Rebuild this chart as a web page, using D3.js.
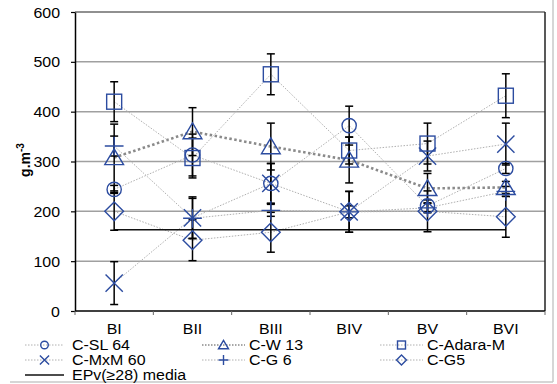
<!DOCTYPE html>
<html>
<head>
<meta charset="utf-8">
<script src="https://cdn.jsdelivr.net/npm/d3@7"></script>
<style>
  body { margin: 0; background: #fff; }
  svg { display: block; font-family: "Liberation Sans", Arial, sans-serif; }
</style>
</head>
<body>
<svg id="chart" width="557" height="384"></svg>
<script>
// Sampling blocks
const categories = ["BI", "BII", "BIII", "BIV", "BV", "BVI"];
const yTicks = [0, 100, 200, 300, 400, 500, 600];

// Mean values (g.m-3) per clone
const sl64   = [244, 313, 256, 372, 211, 286];
const w13    = [308, 360, 330, 303, 246, 248];
const adara  = [420, 307, 475, 322, 336, 432];
const mxm60  = [56, 187, 256, 199, 311, 335];
const g6     = [331, 186, 202, 199, 207, 240];
const g5     = [200, 142, 158, 199, 200, 189];

// Standard errors
const sl64Err  = [8, 42, 40, 39, 12, 10];
const w13Err   = [67, 48, 47, 46, 30, 12];
const adaraErr = [40, 40, 41, 27, 41, 44];
const mxm60Err = [43, 42, 40, 41, 30, 42];
const g6Err    = [20, 40, 12, 12, 10, 10];
const g5Err    = [38, 41, 40, 41, 41, 41];

// Mean EPv(>=28) reference level
const epvMedia = 163;

const seriesNames = ["C-SL 64", "C-W 13", "C-Adara-M", "C-MxM 60", "C-G 6", "C-G5", "EPv(≥28)  media"];
const seriesDefs = [
  { name: seriesNames[0], values: sl64,  err: sl64Err,  symbol: "circle" },
  { name: seriesNames[1], values: w13,   err: w13Err,   symbol: "triangle", bold: true },
  { name: seriesNames[2], values: adara, err: adaraErr, symbol: "square" },
  { name: seriesNames[3], values: mxm60, err: mxm60Err, symbol: "x" },
  { name: seriesNames[4], values: g6,    err: g6Err,    symbol: "plus" },
  { name: seriesNames[5], values: g5,    err: g5Err,    symbol: "diamond" }
];

const blue = "#2c4ca0";
const fontSize = 14.5;
const stretch = 1.1;
const svg = d3.select("#chart");
const plot = { left: 75, right: 545, top: 12, bottom: 311 };

const x = d3.scaleBand().domain(categories).range([plot.left, plot.right]).padding(0);
const y = d3.scaleLinear().domain([0, 600]).range([plot.bottom, plot.top]);
const cx = c => x(c) + x.bandwidth() / 2;

// Text drawn slightly wide, anchored at (tx, ty)
function wideText(parent, tx, ty, str, anchor) {
  return parent.append("text")
    .attr("transform", `translate(${tx},${ty}) scale(${stretch},1)`)
    .attr("text-anchor", anchor || "start")
    .attr("font-size", fontSize).attr("fill", "#000").text(str);
}

// Outer frame
svg.append("line").attr("x1", 553).attr("x2", 553).attr("y1", 0).attr("y2", 382)
  .attr("stroke", "#c8c8c8").attr("stroke-width", 1.5);
svg.append("line").attr("x1", 10).attr("x2", 553).attr("y1", 382).attr("y2", 382)
  .attr("stroke", "#c8c8c8").attr("stroke-width", 1.5);

// Gridlines
svg.append("g").selectAll("line").data(yTicks.filter(t => t > 0 && t < 600)).join("line")
  .attr("x1", plot.left).attr("x2", plot.right)
  .attr("y1", d => y(d)).attr("y2", d => y(d))
  .attr("stroke", "#a0a0a0").attr("stroke-width", 1.5);

// Plot frame top / right
svg.append("line").attr("x1", plot.left).attr("x2", plot.right).attr("y1", y(600)).attr("y2", y(600))
  .attr("stroke", "#222").attr("stroke-width", 1.2);
svg.append("line").attr("x1", plot.right).attr("x2", plot.right).attr("y1", y(600)).attr("y2", y(0))
  .attr("stroke", "#222").attr("stroke-width", 1.5);

// Y axis
const yAxis = svg.append("g").attr("transform", `translate(${plot.left},0)`)
  .call(d3.axisLeft(y).tickValues(yTicks).tickSize(4).tickSizeOuter(0).tickFormat(""));
yAxis.select(".domain").attr("stroke", "#000").attr("stroke-width", 1.5);
yAxis.selectAll(".tick line").attr("stroke", "#000").attr("stroke-width", 1.2);
yAxis.selectAll(".tick").each(function (d) {
  wideText(d3.select(this), -15, 5, d3.format("d")(d), "end");
});

// X axis: baseline, boundary ticks, centered labels
svg.append("line").attr("x1", plot.left).attr("x2", plot.right).attr("y1", plot.bottom).attr("y2", plot.bottom)
  .attr("stroke", "#000").attr("stroke-width", 1.5);
const bounds = categories.map(c => x(c)).concat([x(categories[categories.length - 1]) + x.bandwidth()]);
svg.append("g").selectAll("line").data(bounds).join("line")
  .attr("x1", d => d).attr("x2", d => d).attr("y1", plot.bottom).attr("y2", plot.bottom + 4)
  .attr("stroke", "#666").attr("stroke-width", 1);
const xLabels = svg.append("g");
categories.forEach(c => wideText(xLabels, cx(c), 334, c, "middle"));

// Y label
const yl = svg.append("text").attr("transform", "translate(30,160) rotate(-90)")
  .attr("text-anchor", "middle").attr("font-size", 14).attr("font-weight", "bold");
yl.append("tspan").text("g.m");
yl.append("tspan").attr("dy", -6).attr("font-size", 10).text("-3");

// Marker drawing
function marker(g, type, size) {
  const s = size / 2;
  const attrs = el => el.attr("fill", "none").attr("stroke", blue).attr("stroke-width", 1.4);
  if (type === "circle") attrs(g.append("circle").attr("r", s * 0.95));
  if (type === "square") attrs(g.append("rect").attr("x", -s).attr("y", -s)
    .attr("width", s * 2).attr("height", s * 2));
  if (type === "triangle") attrs(g.append("path").attr("d", `M0,${-s * 1.15}L${s * 1.25},${s * 0.95}L${-s * 1.25},${s * 0.95}Z`));
  if (type === "diamond") attrs(g.append("path").attr("d", `M0,${-s * 1.25}L${s * 1.25},0L0,${s * 1.25}L${-s * 1.25},0Z`));
  if (type === "x") attrs(g.append("path").attr("d", `M${-s * 1.15},${-s * 1.15}L${s * 1.15},${s * 1.15}M${s * 1.15},${-s * 1.15}L${-s * 1.15},${s * 1.15}`));
  if (type === "plus") attrs(g.append("path").attr("d", `M${-s * 1.25},0L${s * 1.25},0M0,${-s * 1.25}L0,${s * 1.25}`));
}

// Connecting lines
const lineGen = d3.line().x((d, i) => cx(categories[i])).y(d => y(d));
seriesDefs.forEach(s => {
  svg.append("path").datum(s.values).attr("d", lineGen).attr("fill", "none")
    .attr("stroke", s.bold ? "#8a8a8a" : "#b0b0b0")
    .attr("stroke-width", s.bold ? 2.6 : 1)
    .attr("stroke-dasharray", s.bold ? "2.5,2.5" : "1.5,1.5");
});

// Mean EPv reference line
svg.append("line").attr("x1", cx(categories[0])).attr("x2", cx(categories[5]))
  .attr("y1", y(epvMedia)).attr("y2", y(epvMedia)).attr("stroke", "#111").attr("stroke-width", 1.3);

// Error bars
const eb = svg.append("g").attr("stroke", "#000").attr("stroke-width", 1.5);
seriesDefs.forEach(s => {
  s.values.forEach((v, i) => {
    const px = cx(categories[i]);
    const lo = y(v - s.err[i]), hi = y(v + s.err[i]);
    eb.append("line").attr("x1", px).attr("x2", px).attr("y1", lo).attr("y2", hi);
    eb.append("line").attr("x1", px - 4).attr("x2", px + 4).attr("y1", lo).attr("y2", lo);
    eb.append("line").attr("x1", px - 4).attr("x2", px + 4).attr("y1", hi).attr("y2", hi);
  });
});

// Markers
seriesDefs.forEach(s => {
  s.values.forEach((v, i) => {
    const g = svg.append("g").attr("transform", `translate(${cx(categories[i])},${y(v)})`);
    marker(g, s.symbol, 15);
  });
});

// Legend
const legendCols = [{ x0: 25, x1: 64, text: 72 }, { x0: 202, x1: 245, text: 249 }, { x0: 380, x1: 423, text: 427 }];
const legendRows = [345, 360, 375];
const legend = svg.append("g").attr("font-size", fontSize);
seriesDefs.forEach((s, k) => {
  const col = legendCols[k % 3], row = legendRows[Math.floor(k / 3)];
  legend.append("line").attr("x1", col.x0).attr("x2", col.x1).attr("y1", row).attr("y2", row)
    .attr("stroke", s.bold ? "#8a8a8a" : "#b0b0b0").attr("stroke-width", s.bold ? 1.6 : 1)
    .attr("stroke-dasharray", "1.5,1.5");
  const g = legend.append("g").attr("transform", `translate(${(col.x0 + col.x1) / 2},${row})`);
  marker(g, s.symbol, 8);
  wideText(legend, col.text, row + 5, s.name);
});
{
  const col = legendCols[0], row = legendRows[2];
  legend.append("line").attr("x1", col.x0).attr("x2", col.x1).attr("y1", row).attr("y2", row)
    .attr("stroke", "#111").attr("stroke-width", 1.3);
  wideText(legend, col.text, row + 5, seriesNames[6]);
}
</script>
</body>
</html>
